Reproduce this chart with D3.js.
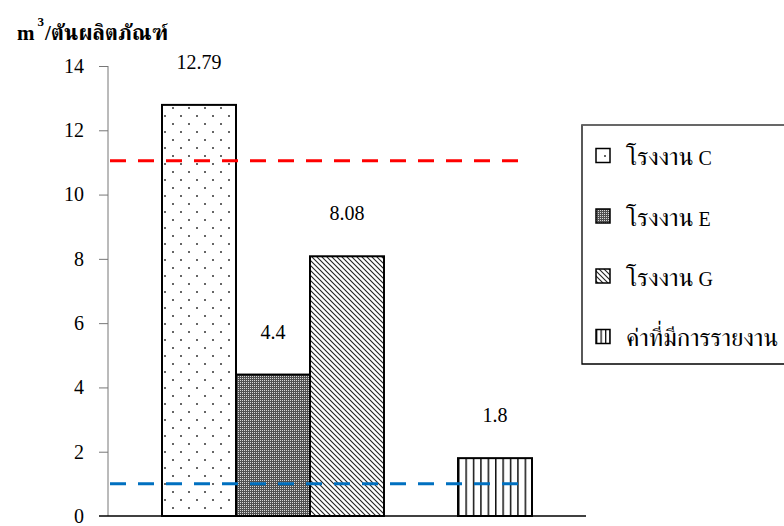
<!DOCTYPE html>
<html><head><meta charset="utf-8">
<script src="https://cdn.jsdelivr.net/npm/d3@7"></script>
<style>
body{margin:0;background:#fff;}
svg{display:block;}
text{font-family:"Liberation Serif","Times New Roman",serif;}
.th{font-family:"FreeSerif","Noto Serif Thai",serif;}
</style></head>
<body><svg id="c" width="784" height="526"></svg>
<script>
const categories = ["โรงงาน C","โรงงาน E","โรงงาน G","","ค่าที่มีการรายงาน"];
const legendThai = ["โรงงาน","โรงงาน","โรงงาน","ค่าที่มีการรายงาน"];
const legendLatin = [" C"," E"," G",""];
const values = [12.79, 4.4, 8.08, null, 1.8];
const valueLabels = ["12.79","4.4","8.08","","1.8"];
const yTicks = [0,2,4,6,8,10,12,14];
const refHigh = 11.05;
const refLow = 1.0;
const unitThai = "/ตันผลิตภัณฑ์";

const svg = d3.select("#c");
const y = d3.scaleLinear().domain([0,14]).range([516,66]);
const x = d3.scaleBand().domain(categories).range([162,532]).padding(0);

const defs = svg.append("defs");
// C: dots
const pC = defs.append("pattern").attr("id","pC").attr("patternUnits","userSpaceOnUse")
  .attr("width",16).attr("height",16);
pC.append("rect").attr("width",16).attr("height",16).attr("fill","#fff");
pC.append("circle").attr("cx",5).attr("cy",4).attr("r",1).attr("fill","#333");
pC.append("circle").attr("cx",13).attr("cy",12).attr("r",1).attr("fill","#333");
// E: dense checker
const pE = defs.append("pattern").attr("id","pE").attr("patternUnits","userSpaceOnUse")
  .attr("width",2).attr("height",2);
pE.append("rect").attr("width",2).attr("height",2).attr("fill","#505050");
pE.append("rect").attr("width",1).attr("height",1).attr("fill","#d8d8d8");
// G: diagonal stripes
const pG = defs.append("pattern").attr("id","pG").attr("patternUnits","userSpaceOnUse")
  .attr("width",5).attr("height",5);
pG.append("rect").attr("width",5).attr("height",5).attr("fill","#fff");
pG.append("path").attr("d","M-1,-1 L6,6 M-1,4 L1,6 M4,-1 L6,1").attr("stroke","#222").attr("stroke-width",1.1);
// R: vertical lines
const pR = defs.append("pattern").attr("id","pR").attr("patternUnits","userSpaceOnUse")
  .attr("width",7.4).attr("height",10).attr("x",x(categories[4]));
pR.append("rect").attr("width",7.4).attr("height",10).attr("fill","#fff");
pR.append("line").attr("x1",0.5).attr("x2",0.5).attr("y1",0).attr("y2",10).attr("stroke","#111").attr("stroke-width",2);
const pRL = defs.append("pattern").attr("id","pRL").attr("patternUnits","userSpaceOnUse")
  .attr("width",4.5).attr("height",10).attr("x",596);
pRL.append("rect").attr("width",4.5).attr("height",10).attr("fill","#fff");
pRL.append("line").attr("x1",0.5).attr("x2",0.5).attr("y1",0).attr("y2",10).attr("stroke","#111").attr("stroke-width",1.6);
const fills = ["url(#pC)","url(#pE)","url(#pG)",null,"url(#pR)"];

// y axis
const yAxis = svg.append("g").attr("transform","translate(108,0)")
  .call(d3.axisLeft(y).tickValues(yTicks).tickSize(9).tickPadding(15).tickFormat(d3.format("d")));
yAxis.attr("font-family",null);
yAxis.select(".domain").attr("stroke","#777").attr("d","M0,66V516");
yAxis.selectAll(".tick line").attr("stroke","#777");
yAxis.selectAll("text").attr("font-size",20).attr("fill","#000").style("font-family","'Liberation Serif'");
yAxis.selectAll(".tick").filter(d=>d===0).select("line").remove();

// bars
const data = categories.map((c,i)=>({c, v: values[i], f: fills[i], l: valueLabels[i]})).filter(d=>d.v!=null);
svg.append("g").selectAll("rect").data(data).join("rect")
  .attr("x",d=>x(d.c)).attr("width",x.bandwidth())
  .attr("y",d=>y(d.v)).attr("height",d=>y(0)-y(d.v))
  .attr("fill",d=>d.f).attr("stroke","#000").attr("stroke-width",2);

// x axis line
svg.append("line").attr("x1",99).attr("x2",586).attr("y1",y(0)).attr("y2",y(0)).attr("stroke","#000").attr("stroke-width",1.3);

// reference lines
svg.append("line").attr("x1",110).attr("x2",518).attr("y1",y(refHigh)).attr("y2",y(refHigh))
  .attr("stroke","#ff0000").attr("stroke-width",3).attr("stroke-dasharray","16,12");
svg.append("line").attr("x1",110).attr("x2",520).attr("y1",y(refLow)).attr("y2",y(refLow))
  .attr("stroke","#0070c0").attr("stroke-width",3).attr("stroke-dasharray","16,12");

// value labels
svg.append("g").selectAll("text").data(data).join("text")
  .attr("x",d=>x(d.c)+x.bandwidth()/2).attr("y",d=>y(d.v)-36)
  .attr("text-anchor","middle").attr("font-size",20).style("font-family","'Liberation Serif'").text(d=>d.l);

// title
const t = svg.append("text").attr("x",17).attr("y",40).attr("font-weight","bold");
t.append("tspan").attr("font-size",21).text("m");
t.append("tspan").attr("dy",-14).attr("dx",3).attr("font-size",13).text("3");
t.append("tspan").attr("dy",14).attr("dx",1).attr("font-size",21).text(unitThai.slice(0,1));
t.append("tspan").attr("class","th").attr("font-size",22).text(unitThai.slice(1));

// legend
const lg = svg.append("g");
lg.append("path").attr("d","M790,125H582V364H790").attr("fill","#fff").attr("stroke","#000").attr("stroke-width",1.3);
lg.append("line").attr("x1",582).attr("x2",790).attr("y1",125).attr("y2",125).attr("stroke","#777").attr("stroke-width",1.5);
const legFills = ["url(#pC)","url(#pE)","url(#pG)","url(#pRL)"];
const ly = [155.5,216,276,336.5];
legendThai.forEach((lab,i)=>{
  lg.append("rect").attr("x",596).attr("y",ly[i]-7).attr("width",14).attr("height",14)
    .attr("fill",legFills[i]).attr("stroke","#000").attr("stroke-width",1.5);
  const tx = lg.append("text").attr("x",626).attr("y",ly[i]+9.5);
  tx.append("tspan").attr("class","th").attr("font-size",25).text(lab);
  if(legendLatin[i]) tx.append("tspan").attr("font-size",20).text(legendLatin[i]);
});
</script></body></html>
